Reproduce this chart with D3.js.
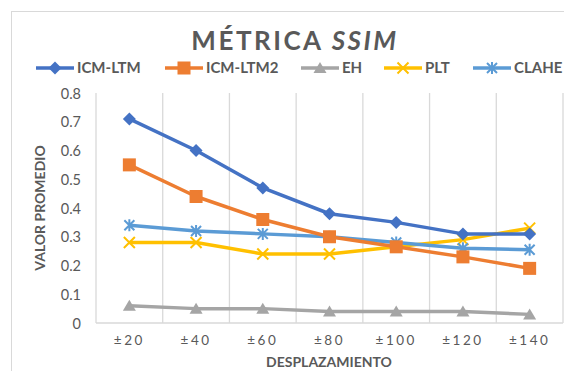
<!DOCTYPE html>
<html><head><meta charset="utf-8">
<script src="https://cdn.jsdelivr.net/npm/d3@7"></script>
<style>body{margin:0;background:#fff}svg{display:block}text{font-family:Lato,"Open Sans",sans-serif;fill:#595959}</style>
</head><body>
<svg id="c" width="564" height="371"></svg>
<script>
const categories = ["±20","±40","±60","±80","±100","±120","±140"];
const icmLtm  = [0.71,0.60,0.47,0.38,0.35,0.31,0.31];
const icmLtm2 = [0.55,0.44,0.36,0.30,0.265,0.23,0.19];
const eh      = [0.06,0.05,0.05,0.04,0.04,0.04,0.03];
const plt     = [0.28,0.28,0.24,0.24,0.265,0.29,0.33];
const clahe   = [0.34,0.32,0.31,0.30,0.28,0.26,0.255];
const yTicks  = [0,0.1,0.2,0.3,0.4,0.5,0.6,0.7,0.8];
const seriesNames = ["ICM-LTM","ICM-LTM2","EH","PLT","CLAHE"];
const seriesData = [icmLtm, icmLtm2, eh, plt, clahe];
const colors = ["#4472C4","#ED7D31","#A5A5A5","#FFC000","#5B9BD5"];
const markers = ["diamond","square","triangle","x","star"];

const svg = d3.select("#c");
svg.append("rect").attr("x",11.5).attr("y",11.5).attr("width",600).attr("height",400)
  .attr("fill","none").attr("stroke","#d9d9d9");

const x = d3.scaleBand().domain(categories).range([96,563]);
const y = d3.scaleLinear().domain([0,0.8]).range([323,93]);

// grid
const g = svg.append("g");
const edges = categories.map(c=>x(c)).concat([x.range()[1]]);
g.selectAll("line.v").data(edges).enter().append("line")
  .attr("x1",d=>d).attr("x2",d=>d).attr("y1",y(0.8)).attr("y2",y(0))
  .attr("stroke","#d9d9d9").attr("stroke-width",1.3);
g.append("line").attr("x1",96).attr("x2",563).attr("y1",y(0)).attr("y2",y(0))
  .attr("stroke","#d9d9d9").attr("stroke-width",1.3);

// y axis labels
const ya = svg.append("g").attr("transform","translate(81,0)")
  .call(d3.axisLeft(y).tickValues(yTicks).tickSize(0).tickPadding(0).tickFormat(d=>d===0?"0":d3.format(".1f")(d)));
ya.select(".domain").remove();
ya.selectAll("text").style("font-size","14.5px").style("fill","#595959").attr("dy","0.35em");

// x axis labels
const xa = svg.append("g").attr("transform",`translate(0,${y(0)})`)
  .call(d3.axisBottom(x).tickSize(0).tickPadding(12));
xa.select(".domain").remove();
xa.selectAll("text").style("font-size","13.5px").style("fill","#595959").style("letter-spacing","2.5px");

// axis titles
svg.append("text").attr("x",329).attr("y",367).attr("text-anchor","middle")
  .style("font-size","14px").style("font-weight","bold").text("DESPLAZAMIENTO");
svg.append("text").attr("transform","translate(45,208) rotate(-90)").attr("text-anchor","middle")
  .style("font-size","14px").style("font-weight","bold").text("VALOR PROMEDIO");

// title
const t = svg.append("text").attr("x",295).attr("y",50).attr("text-anchor","middle")
  .style("font-size","26px").style("font-weight","bold").style("letter-spacing","2.5px");
t.append("tspan").text("MÉTRICA ");
t.append("tspan").style("font-style","italic").text("SSIM");

function drawMarker(sel, type, color){
  if(type==="diamond"){
    sel.append("path").attr("d","M0,-6.5L6.5,0L0,6.5L-6.5,0Z").attr("fill",color);
  } else if(type==="square"){
    sel.append("rect").attr("x",-6.5).attr("y",-6.5).attr("width",13).attr("height",13).attr("fill",color);
  } else if(type==="triangle"){
    sel.append("path").attr("d","M0,-6L6.5,5L-6.5,5Z").attr("fill",color);
  } else if(type==="x"){
    sel.append("path").attr("d","M-5.5,-5.5L5.5,5.5M-5.5,5.5L5.5,-5.5").attr("stroke",color).attr("stroke-width",2);
  } else if(type==="star"){
    sel.append("path").attr("d","M-5,-5L5,5M-5,5L5,-5M0,-6L0,6").attr("stroke",color).attr("stroke-width",2);
  }
}

const line = d3.line().x((d,i)=>x(categories[i])+x.bandwidth()/2).y(d=>y(d));
const order = [2,3,4,1,0];
order.forEach(si=>{
  const s = seriesData[si];
  svg.append("path").datum(s).attr("d",line).attr("fill","none")
    .attr("stroke",colors[si]).attr("stroke-width",3.5).attr("stroke-linejoin","round");
  s.forEach((v,i)=>{
    const m = svg.append("g").attr("transform",`translate(${x(categories[i])+x.bandwidth()/2},${y(v)})`);
    drawMarker(m, markers[si], colors[si]);
  });
});

// legend
const legX = [36,165,301,384,473];
seriesNames.forEach((n,i)=>{
  const lg = svg.append("g").attr("transform",`translate(${legX[i]},68)`);
  lg.append("line").attr("x1",0).attr("x2",38).attr("stroke",colors[i]).attr("stroke-width",3.5);
  const m = lg.append("g").attr("transform","translate(19,0)");
  drawMarker(m, markers[i], colors[i]);
  lg.append("text").attr("x",41).attr("y",0).attr("dy","0.36em")
    .style("font-size","15px").style("font-weight","bold").text(n);
});
</script>
</body></html>
